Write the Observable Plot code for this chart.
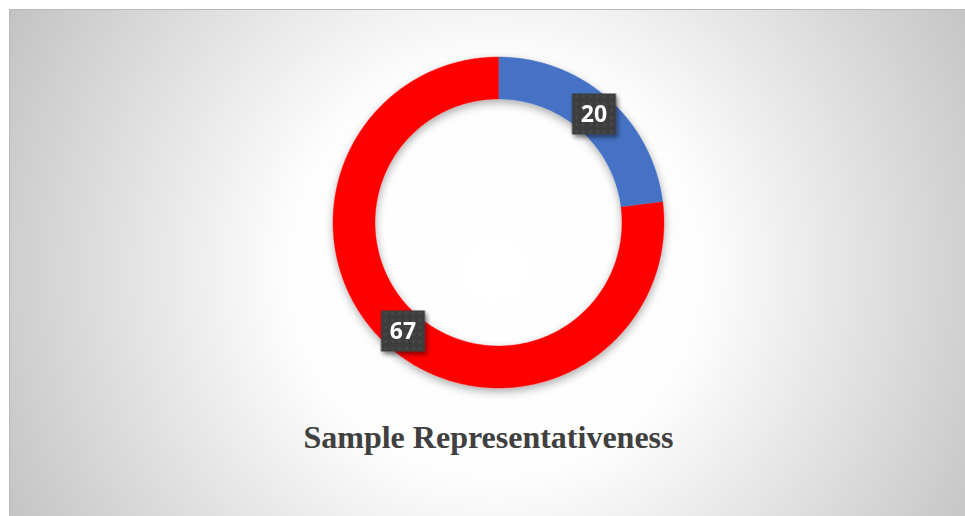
<!DOCTYPE html>
<html>
<head>
<meta charset="utf-8">
<script src="https://cdn.jsdelivr.net/npm/d3@7"></script>
<script src="https://cdn.jsdelivr.net/npm/@observablehq/plot@0.6"></script>
<style>
  html, body { margin: 0; padding: 0; background: #ffffff; overflow: hidden; }
  #page { position: relative; width: 965px; height: 516px; overflow: hidden; }
  #panel {
    position: absolute; left: 9px; top: 9px; width: 970px; height: 520px;
    border-top: 1px solid #b9b9b9; border-left: 1px solid #b9b9b9;
    background: radial-gradient(circle farthest-corner at 50% 50%, #ffffff 0%, #fdfdfd 38%, #c3c3c3 100%);
  }
  #chart { position: absolute; left: 0; top: 0; }
  #title {
    position: absolute; left: 0; top: 421px; width: 977px; text-align: center;
    font-family: "Liberation Serif", "Times New Roman", serif; font-weight: bold;
    font-size: 32px; line-height: 32px; color: #404040;
  }
</style>
</head>
<body>
<div id="page">
  <div id="panel"></div>
  <div id="chart"></div>
  <div id="title">Sample Representativeness</div>
</div>
<script>
// Donut segments
const categories = ["Segment 1", "Segment 2"];
const values = [20, 67];
const colors = ["#4472C4", "#FF0000"];
const holeRatio = 0.746;

// Build ring polygons (unit outer radius, angle clockwise from 12 o'clock)
const total = d3.sum(values);
const ringPoints = [];
const labels = [];
let acc = 0;
categories.forEach((name, i) => {
  const a0 = (acc / total) * 2 * Math.PI;
  const a1 = ((acc + values[i]) / total) * 2 * Math.PI;
  const steps = Math.max(2, Math.ceil((a1 - a0) / (Math.PI / 360)));
  for (let k = 0; k <= steps; ++k) {
    const a = a0 + (a1 - a0) * k / steps;
    ringPoints.push({name, color: colors[i], x: Math.sin(a), y: Math.cos(a)});
  }
  for (let k = steps; k >= 0; --k) {
    const a = a0 + (a1 - a0) * k / steps;
    ringPoints.push({name, color: colors[i], x: holeRatio * Math.sin(a), y: holeRatio * Math.cos(a)});
  }
  const mid = (a0 + a1) / 2;
  const r = (1 + holeRatio) / 2;
  labels.push({name, value: values[i], x: r * Math.sin(mid), y: r * Math.cos(mid)});
  acc += values[i];
});

// Label box symbol (fixed pixel size)
const labelBox = {
  draw(context) { context.rect(-22, -20.5, 44, 41); }
};

const svg = Plot.plot({
  width: 965,
  height: 516,
  marginLeft: 332.5,
  marginRight: 301.5,
  marginTop: 56.5,
  marginBottom: 128.5,
  style: {background: "transparent", overflow: "visible"},
  x: {domain: [-1, 1], axis: null},
  y: {domain: [-1, 1], axis: null},
  color: {type: "identity"},
  marks: [
    Plot.line(ringPoints, {x: "x", y: "y", z: "name", fill: "color", stroke: "color", strokeWidth: 0.4, curve: "linear"}),
    Plot.dot(labels, {x: "x", y: "y", symbol: labelBox, fill: "url(#labelDots)", stroke: "none", r: 10}),
    Plot.text(labels, {
      x: "x", y: "y", text: d => String(d.value), fill: "#ffffff",
      fontFamily: "'Open Sans', 'Noto Sans', sans-serif", fontWeight: "bold", fontSize: 23,
      textAnchor: "middle", lineAnchor: "middle", dy: 1
    })
  ]
});

// Shadows and the dotted label texture
const s = d3.select(svg);
const defs = s.insert("defs", ":first-child");
defs.append("filter").attr("id", "ringShadow")
  .attr("x", "-20%").attr("y", "-20%").attr("width", "140%").attr("height", "140%")
  .append("feDropShadow")
  .attr("dx", 0.5).attr("dy", 3.5).attr("stdDeviation", 4.5)
  .attr("flood-color", "#000").attr("flood-opacity", 0.32);
defs.append("filter").attr("id", "boxShadow")
  .attr("x", "-40%").attr("y", "-40%").attr("width", "180%").attr("height", "180%")
  .append("feDropShadow")
  .attr("dx", 2).attr("dy", 3).attr("stdDeviation", 2)
  .attr("flood-color", "#000").attr("flood-opacity", 0.45);
const pat = defs.append("pattern").attr("id", "labelDots")
  .attr("patternUnits", "userSpaceOnUse").attr("width", 7).attr("height", 7);
pat.append("rect").attr("width", 7).attr("height", 7).attr("fill", "#3e3e3e");
pat.append("circle").attr("cx", 3.5).attr("cy", 3.5).attr("r", 0.9).attr("fill", "#5c5c5c");

s.select('g[aria-label="line"]').attr("filter", "url(#ringShadow)");
s.select('g[aria-label="dot"]').attr("filter", "url(#boxShadow)");

document.getElementById("chart").appendChild(svg);
</script>
</body>
</html>
